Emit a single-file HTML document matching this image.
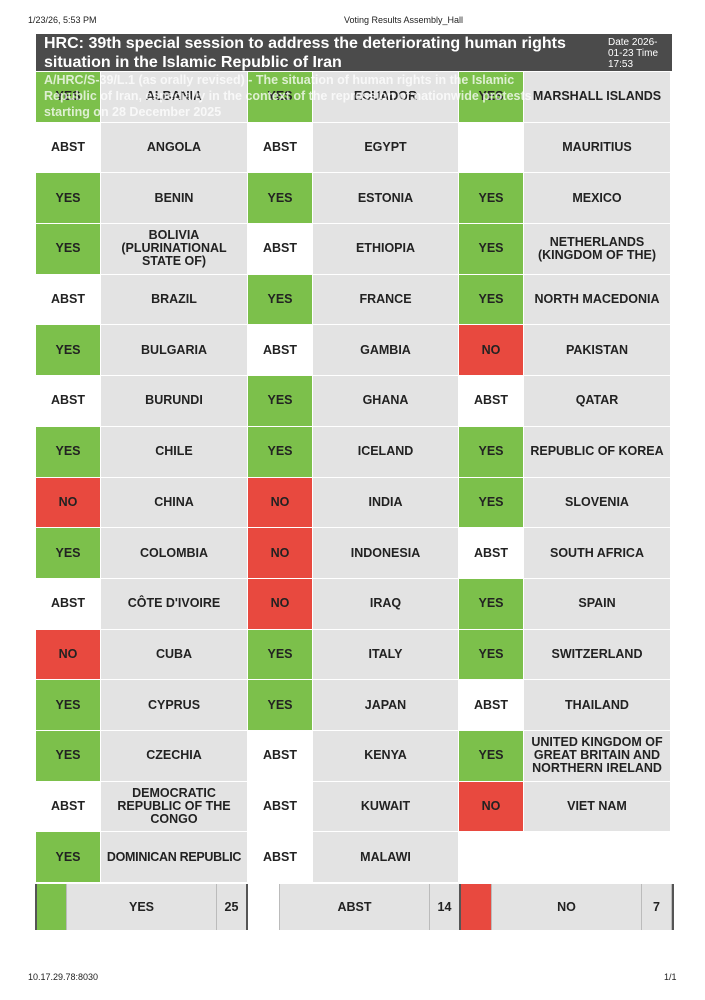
<!DOCTYPE html>
<html><head><meta charset="utf-8"><style>
body{margin:0;width:705px;height:1000px;background:#fff;position:relative;font-family:"Liberation Sans",Arial,sans-serif;overflow:hidden}
.top{position:absolute;top:15px;font-size:9px;color:#222}
.hdr{position:absolute;left:36px;top:34px;width:636px;height:37px;background:#4b4b4b;color:#fff}
.hdr .t{position:absolute;left:8px;top:0;font-size:16px;line-height:19px;font-weight:bold;width:540px}
.hdr .d{position:absolute;left:572px;top:3px;font-size:10px;line-height:11px;width:60px}
.grid{position:absolute;left:36px;top:72px;display:grid;grid-template-columns:64px 146px 64px 145px 64px 146px;grid-auto-rows:49.7px;gap:1px}
.grid div{display:flex;align-items:center;justify-content:center;text-align:center;font-weight:bold;font-size:12.5px;line-height:13px;color:#222}
.n{background:#e3e3e3}.y{background:#7cc04b}.r{background:#e8493f}.a{background:#fff}
.ov{position:absolute;left:44px;top:72px;font-size:12.5px;line-height:16px;font-weight:bold;color:rgba(255,255,255,.75);width:530px}
.sum{position:absolute;top:884px;height:46px;display:flex}
.sum div{display:flex;align-items:center;justify-content:center;font-weight:bold;font-size:12.5px;color:#222;box-sizing:border-box;border-right:1px solid #bbb}
.bot{position:absolute;top:972px;font-size:9px;color:#222}
</style></head><body>
<div class="top" style="left:28px">1/23/26, 5:53 PM</div>
<div class="top" style="left:344px">Voting Results Assembly_Hall</div>
<div class="hdr"><div class="t">HRC: 39th special session to address the deteriorating human rights situation in the Islamic Republic of Iran</div><div class="d">Date 2026-01-23 Time 17:53</div></div>
<div class="grid">
<div class="y">YES</div><div class="n">ALBANIA</div><div class="y">YES</div><div class="n">ECUADOR</div><div class="y">YES</div><div class="n">MARSHALL ISLANDS</div>
<div class="a">ABST</div><div class="n">ANGOLA</div><div class="a">ABST</div><div class="n">EGYPT</div><div class="a"></div><div class="n">MAURITIUS</div>
<div class="y">YES</div><div class="n">BENIN</div><div class="y">YES</div><div class="n">ESTONIA</div><div class="y">YES</div><div class="n">MEXICO</div>
<div class="y">YES</div><div class="n">BOLIVIA (PLURINATIONAL STATE OF)</div><div class="a">ABST</div><div class="n">ETHIOPIA</div><div class="y">YES</div><div class="n">NETHERLANDS (KINGDOM OF THE)</div>
<div class="a">ABST</div><div class="n">BRAZIL</div><div class="y">YES</div><div class="n">FRANCE</div><div class="y">YES</div><div class="n">NORTH MACEDONIA</div>
<div class="y">YES</div><div class="n">BULGARIA</div><div class="a">ABST</div><div class="n">GAMBIA</div><div class="r">NO</div><div class="n">PAKISTAN</div>
<div class="a">ABST</div><div class="n">BURUNDI</div><div class="y">YES</div><div class="n">GHANA</div><div class="a">ABST</div><div class="n">QATAR</div>
<div class="y">YES</div><div class="n">CHILE</div><div class="y">YES</div><div class="n">ICELAND</div><div class="y">YES</div><div class="n">REPUBLIC OF KOREA</div>
<div class="r">NO</div><div class="n">CHINA</div><div class="r">NO</div><div class="n">INDIA</div><div class="y">YES</div><div class="n">SLOVENIA</div>
<div class="y">YES</div><div class="n">COLOMBIA</div><div class="r">NO</div><div class="n">INDONESIA</div><div class="a">ABST</div><div class="n">SOUTH AFRICA</div>
<div class="a">ABST</div><div class="n">CÔTE D'IVOIRE</div><div class="r">NO</div><div class="n">IRAQ</div><div class="y">YES</div><div class="n">SPAIN</div>
<div class="r">NO</div><div class="n">CUBA</div><div class="y">YES</div><div class="n">ITALY</div><div class="y">YES</div><div class="n">SWITZERLAND</div>
<div class="y">YES</div><div class="n">CYPRUS</div><div class="y">YES</div><div class="n">JAPAN</div><div class="a">ABST</div><div class="n">THAILAND</div>
<div class="y">YES</div><div class="n">CZECHIA</div><div class="a">ABST</div><div class="n">KENYA</div><div class="y">YES</div><div class="n">UNITED KINGDOM OF GREAT BRITAIN AND NORTHERN IRELAND</div>
<div class="a">ABST</div><div class="n">DEMOCRATIC REPUBLIC OF THE CONGO</div><div class="a">ABST</div><div class="n">KUWAIT</div><div class="r">NO</div><div class="n">VIET NAM</div>
<div class="y">YES</div><div class="n" style="white-space:nowrap;letter-spacing:-.3px">DOMINICAN REPUBLIC</div><div class="a">ABST</div><div class="n">MALAWI</div><div class="a"></div><div class="a"></div>
</div>
<div class="ov">A/HRC/S-39/L.1 (as orally revised) - The situation of human rights in the Islamic<br>Republic of Iran, especially in the context of the repression of nationwide protests<br>starting on 28 December 2025</div>
<div class="sum" style="left:35px;border-left:2px solid #555"><div style="width:30px;background:#7cc04b"></div><div style="width:150px;background:#e3e3e3">YES</div><div style="width:30px;background:#e3e3e3">25</div></div>
<div class="sum" style="left:246px;border-left:2px solid #555"><div style="width:32px;background:#fff"></div><div style="width:150px;background:#e3e3e3">ABST</div><div style="width:30px;background:#e3e3e3">14</div></div>
<div class="sum" style="left:459px;border-left:2px solid #555;border-right:2px solid #555"><div style="width:31px;background:#e8493f"></div><div style="width:150px;background:#e3e3e3">NO</div><div style="width:30px;background:#e3e3e3">7</div></div>
<div class="bot" style="left:28px">10.17.29.78:8030</div>
<div class="bot" style="left:664px">1/1</div>
</body></html>
